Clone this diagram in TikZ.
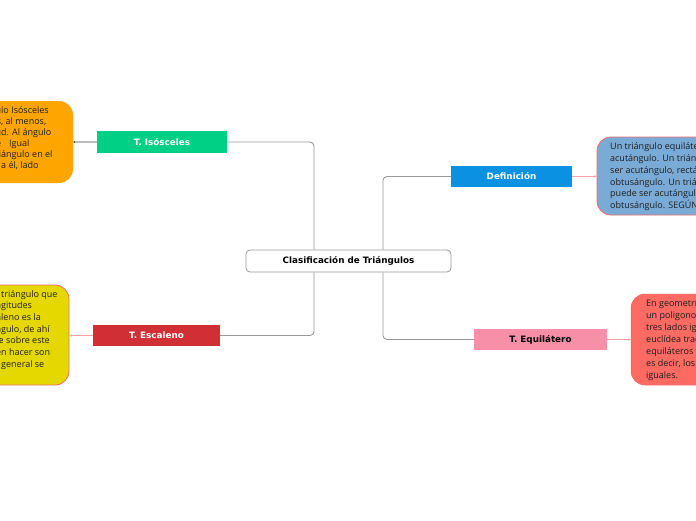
\documentclass[tikz,border=0pt]{standalone}
\usepackage{fontspec}
\setmainfont{Open Sans}
\newfontfamily\labfont{DejaVu Sans}
\usetikzlibrary{arrows.meta}
\definecolor{isogreen}{HTML}{00CF86}
\definecolor{escred}{HTML}{D03035}
\definecolor{defblue}{HTML}{0A91E1}
\definecolor{eqpink}{HTML}{F78FA8}
\definecolor{boxorange}{HTML}{FFA500}
\definecolor{boxyellow}{HTML}{E5D800}
\definecolor{boxblue}{HTML}{7AABD6}
\definecolor{boxred}{HTML}{FF6A62}
\definecolor{pinkline}{HTML}{F5A3A3}
\definecolor{trunkgray}{HTML}{9A9A9A}
\definecolor{leafgray}{HTML}{BDBDBD}
\definecolor{boxborder}{HTML}{F06A6A}
\definecolor{bodyink}{HTML}{1E1E1E}
\begin{document}
\begin{tikzpicture}[x=1pt,y=-1pt,
  topic/.style={rectangle, inner sep=0pt, font=\labfont\bfseries\fontsize{8.8}{10}\selectfont, text=white},
  central/.style={topic, draw=trunkgray, fill=white, text=black, rounded corners=4pt, line width=0.8pt},
  notebox/.style={rectangle, rounded corners=14pt, inner sep=0pt},
  bodytext/.style={inner sep=0pt, align=left, anchor=north west, text=bodyink},
  trunk/.style={draw=trunkgray, line width=0.9pt, rounded corners=4pt},
  leafline/.style={draw=pinkline, line width=0.8pt, -{Stealth[length=2.5pt,width=2.5pt]}},
  greyleaf/.style={draw=leafgray, line width=1.4pt, -{Stealth[length=2pt,width=2.5pt,color=black!70]}}
]
\path[use as bounding box, fill=white] (0,0) rectangle (696,520);
\clip (0,0) rectangle (696,520);

% note boxes
\node[notebox, fill=boxorange, minimum width=133pt, minimum height=82pt] (isobox) at (6.5,142) {};
\node[notebox, fill=boxyellow, draw=boxborder, line width=0.8pt, minimum width=129pt, minimum height=100pt] (escbox) at (4.5,335) {};
\node[notebox, fill=boxblue, draw=boxborder, line width=0.8pt, minimum width=163pt, minimum height=78pt] (defbox) at (678.5,176) {};
\node[notebox, fill=boxred, draw=boxred!85!black!90, line width=0.5pt, minimum width=159pt, minimum height=91pt] (eqbox) at (710.5,339.5) {};

% note texts
\node[bodytext, font=\fontsize{9}{11}\selectfont] (isotext) at (1,106) {\llap{Un triángu}lo Isósceles\\
\llap{iguales}, al menos,\\
\llap{longitu}d. Al ángulo\\
\llap{los lados de}\hspace{8pt}Igual\\
\llap{tri}ángulo en el\\
\llap{opuesto }a él, lado};

\node[bodytext, font=\fontsize{9}{11.7}\selectfont] (esctext) at (1,290) {\llap{Un }triángulo que\\
\llap{lon}gitudes\\
\llap{esca}leno es la\\
\llap{trián}gulo, de ahí\\
\llap{qu}\hspace{-2.5pt}e sobre este\\
\llap{se puede}n hacer son\\
\llap{en }general se};

\node[bodytext, font=\fontsize{9}{11.8}\selectfont] (deftext) at (610,142.5) {Un triángulo equilátero\\
acutángulo. Un triángulo\\
ser acutángulo, rectángulo\\
obtusángulo. Un triángulo\\
puede ser acutángulo\\
obtusángulo. SEGÚN};

\node[bodytext, font=\fontsize{9}{11.9}\selectfont] (eqtext) at (646,299.5) {En geometría,\\
un poligono\\
tres lados iguales\\
euclídea tradicional\\
equiláteros también\\
es decir, los\\
iguales.};

% topics
\node[central, minimum width=205pt, minimum height=22pt] (center) at (348.5,261) {Clasificación de Triángulos};
\node[topic, fill=isogreen, minimum width=130pt, minimum height=22pt] (iso) at (162,142) {T. Isósceles};
\node[topic, fill=escred, minimum width=127pt, minimum height=21pt] (esc) at (156.5,335.5) {T. Escaleno};
\node[topic, fill=defblue, minimum width=121pt, minimum height=21pt] (def) at (511.5,176.5) {Definición};
\node[topic, fill=eqpink, text=black, minimum width=133pt, minimum height=21pt] (eq) at (540.5,339.5) {T. Equilátero};

% trunks
\draw[trunk] ([xshift=-34.5pt]center.north) |- (iso.east);
\draw[trunk] ([xshift=-34.5pt]center.south) |- (esc.east);
\draw[trunk] ([xshift=34.5pt]center.north) |- (def.west);
\draw[trunk] ([xshift=34.5pt]center.south) |- (eq.west);

% leaves
\draw[greyleaf] (iso.west) -- (iso.west -| isobox.east);
\draw[leafline] (esc.west) -- (esc.west -| escbox.east);
\draw[leafline] (def.east) -- (def.east -| defbox.west);
\draw[leafline] (eq.east) -- (eq.east -| eqbox.west);
\end{tikzpicture}
\end{document}
